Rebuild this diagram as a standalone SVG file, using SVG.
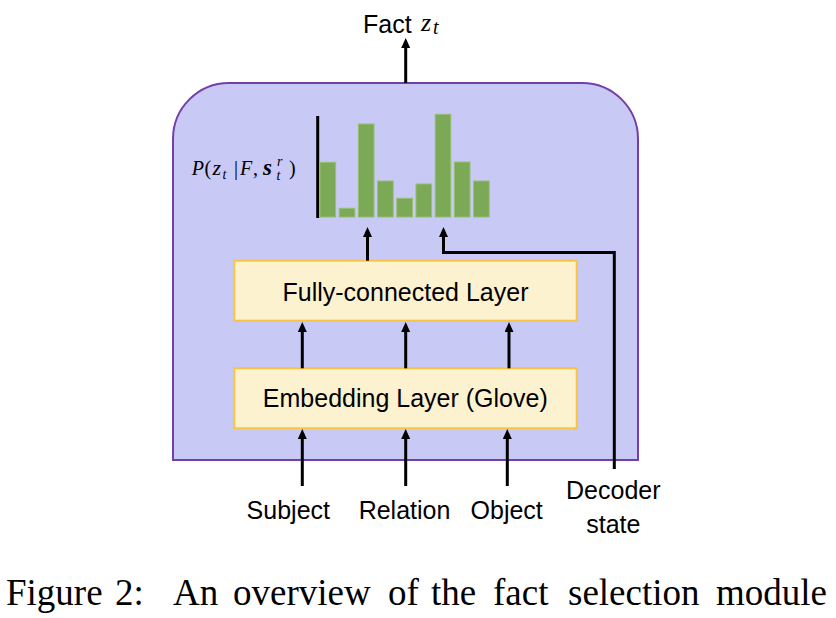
<svg xmlns="http://www.w3.org/2000/svg" width="836" height="618" viewBox="0 0 836 618">
  <defs>
    <marker id="ah" markerUnits="userSpaceOnUse" markerWidth="10" markerHeight="10" refX="5" refY="4.5" orient="auto">
      <path d="M0,0 L10,4.5 L0,9 z" fill="#000"/>
    </marker>
    <style>
      .sans { font-family: "Liberation Sans", Arial, sans-serif; font-size: 25px; fill: #000; }
      .serif { font-family: "Liberation Serif", "Times New Roman", Times, serif; fill: #000; }
      .math { font-family: "Liberation Serif", "Times New Roman", Times, serif; font-style: italic; fill: #000; }
      .layer { fill: #FDF2D0; stroke: #F8C444; stroke-width: 2; }
      .bar { fill: #7BA955; stroke: #93C06E; stroke-width: 1; }
      .conn { fill: none; stroke: #000; stroke-width: 3; }
      .arr { marker-end: url(#ah); }
    </style>
  </defs>
  <rect width="836" height="618" fill="#fff"/>

  <g id="module">
    <path d="M173,460 L173,139 A56,56 0 0 1 229,83 L582,83 A56,56 0 0 1 638,139 L638,460 Z" fill="#C9C9F6" stroke="#7440A8" stroke-width="2"/>
  </g>

  <g id="distribution">
    <line x1="317.7" y1="116" x2="317.7" y2="218" stroke="#000" stroke-width="3"/>
    <rect class="bar" x="320" y="162.3" width="15.6" height="54.7"/>
    <rect class="bar" x="339.2" y="208.3" width="15.6" height="8.7"/>
    <rect class="bar" x="358.4" y="124" width="15.6" height="93"/>
    <rect class="bar" x="377.6" y="181" width="15.6" height="36"/>
    <rect class="bar" x="396.8" y="198.3" width="15.6" height="18.7"/>
    <rect class="bar" x="416" y="184" width="15.6" height="33"/>
    <rect class="bar" x="435.2" y="114.3" width="15.6" height="102.7"/>
    <rect class="bar" x="454.4" y="162" width="15.6" height="55"/>
    <rect class="bar" x="473.6" y="181" width="15.6" height="36"/>
    <text class="math" font-size="20">
      <tspan x="191.7" y="175">P</tspan><tspan x="204.5" y="175" font-style="normal">(</tspan><tspan x="212.5" y="175" font-size="22">z</tspan><tspan x="222.5" y="179" font-size="14">t</tspan><tspan x="234" y="175" font-style="normal">|</tspan><tspan x="240" y="175">F</tspan><tspan x="253" y="175" font-style="normal">,</tspan><tspan x="263" y="175" font-weight="bold" font-size="23">s</tspan><tspan x="277" y="166" font-size="14">r</tspan><tspan x="276.5" y="180" font-size="14">t</tspan><tspan x="289" y="175" font-style="normal">)</tspan>
    </text>
  </g>

  <g id="fact-output">
    <text class="sans" x="363" y="33.3">Fact</text>
    <text class="math" font-size="26" x="421" y="31">z</text>
    <text class="math" font-size="20" x="433" y="33.5">t</text>
  </g>

  <g id="fc-layer">
    <rect class="layer" x="234.3" y="260.7" width="342.4" height="60"/>
    <text class="sans" x="405.5" y="300.7" text-anchor="middle">Fully-connected Layer</text>
  </g>

  <g id="embedding-layer">
    <rect class="layer" x="234.3" y="368.3" width="342.4" height="60"/>
    <text class="sans" x="405.3" y="406.7" text-anchor="middle">Embedding Layer (Glove)</text>
  </g>

  <g id="inputs">
    <text class="sans" x="288.3" y="519.3" text-anchor="middle">Subject</text>
    <text class="sans" x="404.5" y="519.3" text-anchor="middle">Relation</text>
    <text class="sans" x="506.7" y="519.3" text-anchor="middle">Object</text>
  </g>

  <g id="decoder-state">
    <text class="sans" x="613.3" y="499.3" text-anchor="middle">Decoder</text>
    <text class="sans" x="613.3" y="533.3" text-anchor="middle">state</text>
  </g>

  <g id="connectors">
    <line class="conn arr" x1="405.7" y1="83" x2="405.7" y2="43"/>
    <line class="conn arr" x1="367.5" y1="260.7" x2="367.5" y2="232"/>
    <polyline class="conn arr" points="614.3,469 614.3,252.5 443.5,252.5 443.5,232"/>
    <line class="conn arr" x1="302.3" y1="368.3" x2="302.3" y2="327"/>
    <line class="conn arr" x1="405.7" y1="368.3" x2="405.7" y2="327"/>
    <line class="conn arr" x1="509" y1="368.3" x2="509" y2="327"/>
    <line class="conn arr" x1="302.3" y1="486" x2="302.3" y2="434"/>
    <line class="conn arr" x1="405.7" y1="486" x2="405.7" y2="434"/>
    <line class="conn arr" x1="507.3" y1="486" x2="507.3" y2="434"/>
  </g>

  <text class="serif" y="605" font-size="37"><tspan x="6">Figure</tspan><tspan x="115">2:</tspan><tspan x="173">An</tspan><tspan x="233">overview</tspan><tspan x="388">of</tspan><tspan x="431">the</tspan><tspan x="493">fact</tspan><tspan x="568">selection</tspan><tspan x="716">module</tspan></text>
</svg>
